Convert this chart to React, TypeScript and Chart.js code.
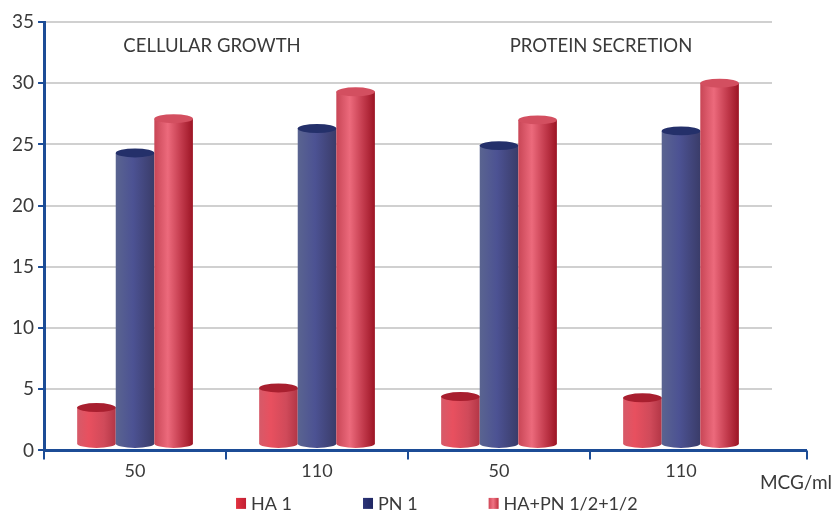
import React, { useEffect, useRef } from "react";
import { Chart, registerables } from "chart.js";

Chart.register(...registerables);

const categories = ["50", "110", "50", "110"];
const ha1 = [3.5, 5.1, 4.4, 4.3];
const pn1 = [24.3, 26.3, 24.9, 26.1];
const haPn = [27.1, 29.3, 27.0, 30.0];
const seriesNames = ["HA 1", "PN 1", "HA+PN 1/2+1/2"];
const groupTitles = ["CELLULAR GROWTH", "PROTEIN SECRETION"];
const unitLabel = "MCG/ml";

const BLUE = "#1c4c96";
const TEXT = "#3a3a3a";
const FONT = "Lato, 'Open Sans', sans-serif";

const STYLES = [
  {
    body: [[0, "#d65a69"], [0.3, "#e8505f"], [0.7, "#d04a5a"], [1, "#b33646"]],
    top: "#a81f2f",
    legend: [[0, "#e2323f"], [1, "#c21f33"]],
  },
  {
    body: [[0, "#5a6490"], [0.45, "#4c5293"], [1, "#3a3c69"]],
    top: "#24306a",
    legend: [[0, "#2c3478"], [1, "#1f2662"]],
  },
  {
    body: [[0, "#c84656"], [0.35, "#ec6a7c"], [0.7, "#c23a4c"], [1, "#9c1424"]],
    top: "#d34f60",
    legend: [[0, "#d04656"], [0.45, "#ef7484"], [1, "#c0303f"]],
  },
];

const cylinderPlugin = {
  id: "cylinders",
  afterDatasetsDraw(chart: any) {
    const ctx = chart.ctx;
    chart.data.datasets.forEach((_ds: any, di: number) => {
      const meta = chart.getDatasetMeta(di);
      if (meta.hidden) return;
      const st = STYLES[di];
      meta.data.forEach((bar: any) => {
        const { x, y, base, width } = bar.getProps(["x", "y", "base", "width"], true);
        const l = x - width / 2;
        const r = x + width / 2;
        const rx = width / 2;
        const ry = Math.max(3, width * 0.115);
        const bot = base - ry - 1.5;
        const g = ctx.createLinearGradient(l, 0, r, 0);
        st.body.forEach(([o, c]: any) => g.addColorStop(o, c));
        ctx.save();
        ctx.beginPath();
        ctx.moveTo(l, y);
        ctx.lineTo(l, bot);
        ctx.ellipse(x, bot, rx, ry, 0, Math.PI, 0, true);
        ctx.lineTo(r, y);
        ctx.closePath();
        ctx.fillStyle = g;
        ctx.fill();
        ctx.beginPath();
        ctx.ellipse(x, y, rx, ry, 0, 0, Math.PI * 2);
        ctx.fillStyle = st.top;
        ctx.fill();
        ctx.restore();
      });
    });
  },
  afterDraw(chart: any) {
    const ctx = chart.ctx;
    const area = chart.chartArea;
    const xs = chart.scales.x;
    ctx.save();
    // x-axis extension and end tick
    ctx.strokeStyle = BLUE;
    ctx.lineWidth = 3;
    ctx.beginPath();
    ctx.moveTo(area.right - 1, area.bottom);
    ctx.lineTo(area.right + 35, area.bottom);
    ctx.stroke();
    ctx.lineWidth = 2;
    ctx.beginPath();
    ctx.moveTo(area.right + 35, area.bottom);
    ctx.lineTo(area.right + 35, area.bottom + 9);
    ctx.stroke();
    // group titles
    ctx.fillStyle = TEXT;
    ctx.font = `18.5px ${FONT}`;
    ctx.textAlign = "center";
    ctx.textBaseline = "middle";
    const c1 = (xs.getPixelForValue(0) + xs.getPixelForValue(1)) / 2 - 14;
    const c2 = (xs.getPixelForValue(2) + xs.getPixelForValue(3)) / 2 + 11;
    ctx.fillText(groupTitles[0], c1, area.top + 24);
    ctx.fillText(groupTitles[1], c2, area.top + 24);
    // unit label
    ctx.textAlign = "right";
    ctx.font = `19px ${FONT}`;
    ctx.fillText(unitLabel, area.right + 60, area.bottom + 32);
    // legend
    ctx.font = `18px ${FONT}`;
    ctx.textAlign = "left";
    const ly = area.bottom + 53;
    let lx = area.left + 192;
    seriesNames.forEach((name, i) => {
      const g = ctx.createLinearGradient(lx, 0, lx + 10, 0);
      STYLES[i].legend.forEach(([o, c]: any) => g.addColorStop(o, c));
      ctx.fillStyle = g;
      ctx.fillRect(lx, ly - 5.5, 10, 11);
      ctx.fillStyle = TEXT;
      ctx.fillText(name, lx + 15, ly + 1);
      lx += 15 + ctx.measureText(name).width + 71;
    });
    ctx.restore();
  },
};

export default function App() {
  const ref = useRef<HTMLCanvasElement | null>(null);
  useEffect(() => {
    document.body.style.margin = "0";
    const canvas = ref.current;
    if (!canvas) return;
    const data = [ha1, pn1, haPn];
    const chart = new Chart(canvas, {
      type: "bar",
      data: {
        labels: categories,
        datasets: data.map((d, i) => ({
          label: seriesNames[i],
          data: d,
          backgroundColor: "rgba(0,0,0,0)",
          borderWidth: 0,
          barPercentage: 1,
          categoryPercentage: 0.636,
        })),
      },
      options: {
        animation: false,
        responsive: true,
        maintainAspectRatio: false,
        layout: { padding: { left: 8, right: 62, top: 22, bottom: 30 } },
        plugins: {
          tooltip: { enabled: false },
          legend: { display: false },
        },
        scales: {
          x: {
            border: { color: BLUE, width: 3 },
            grid: {
              drawOnChartArea: false,
              drawTicks: true,
              tickLength: 9,
              lineWidth: 2,
              tickColor: (c: any) => (c.index === undefined ? "rgba(0,0,0,0)" : BLUE),
            },
            ticks: { color: TEXT, font: { family: FONT, size: 18 }, padding: 1 },
          },
          y: {
            min: 0,
            max: 35,
            border: { color: BLUE, width: 3 },
            grid: { color: "#d0d0d0", lineWidth: 2, tickLength: 6, tickColor: BLUE },
            ticks: { stepSize: 5, color: TEXT, font: { family: FONT, size: 19 }, padding: 4 },
          },
        },
      },
      plugins: [cylinderPlugin],
    });
    return () => chart.destroy();
  }, []);
  return (
    <div style={{ width: 834, height: 513, position: "relative" }}>
      <canvas ref={ref} />
    </div>
  );
}
